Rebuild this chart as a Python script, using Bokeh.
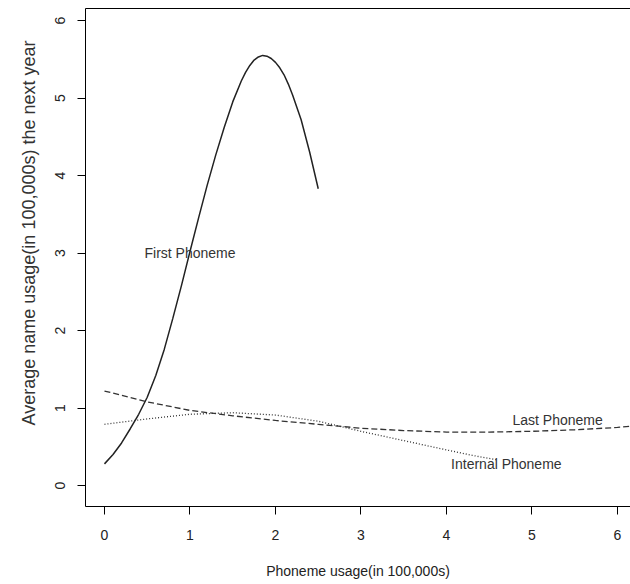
from bokeh.plotting import figure
from bokeh.models import LinearAxis, FixedTicker, Range1d, Title
from bokeh.core.properties import value
from bokeh.embed import file_html
from bokeh.resources import INLINE

# ---- data ----
first_x = [0.0, 0.1, 0.2, 0.3, 0.4, 0.5, 0.6, 0.7, 0.8, 0.9, 1.0, 1.1, 1.2,
           1.3, 1.4, 1.5, 1.6, 1.65, 1.7, 1.75, 1.8, 1.85, 1.9, 1.95, 2.0,
           2.05, 2.1, 2.15, 2.2, 2.3, 2.4, 2.5]
first_y = [0.28, 0.40, 0.55, 0.73, 0.92, 1.14, 1.42, 1.76, 2.16, 2.58, 3.02,
           3.45, 3.87, 4.26, 4.62, 4.95, 5.22, 5.33, 5.42, 5.49, 5.53, 5.55,
           5.54, 5.51, 5.46, 5.39, 5.30, 5.18, 5.04, 4.72, 4.30, 3.83]

last_x = [0.0, 0.5, 1.0, 1.5, 2.0, 2.5, 3.0, 3.5, 4.0, 4.5, 5.0, 5.5, 6.0, 6.3]
last_y = [1.22, 1.08, 0.97, 0.90, 0.84, 0.79, 0.74, 0.71, 0.69, 0.69, 0.70,
          0.72, 0.75, 0.78]

internal_x = [0.0, 0.5, 1.0, 1.5, 2.0, 2.5, 3.0, 3.5, 4.0, 4.3, 4.6]
internal_y = [0.79, 0.86, 0.92, 0.94, 0.91, 0.83, 0.70, 0.58, 0.46, 0.39, 0.33]

label_text = ["First Phoneme", "Last Phoneme", "Internal Phoneme"]
label_x = [1.0, 5.3, 4.7]
label_y = [3.0, 0.85, 0.28]

x_ticks = [0, 1, 2, 3, 4, 5, 6]
y_ticks = [0, 1, 2, 3, 4, 5, 6]

x_title = "Phoneme usage(in 100,000s)"
y_title = "Average name usage(in 100,000s) the next year"

FONT = "Liberation Sans"
INK = "#222222"

p = figure(width=630, height=584, output_backend="svg", toolbar_location=None,
           x_range=Range1d(-0.222, 6.152), y_range=Range1d(-0.27, 6.155),
           x_axis_location=None, y_axis_location=None,
           min_border_left=85, min_border_right=0, min_border_top=8,
           min_border_bottom=78)
p.outline_line_color = None
p.grid.visible = False
p.background_fill_color = "white"
p.border_fill_color = "white"

def style_axis(ax, standoff=14, vertical=False):
    ax.axis_line_color = "black"
    ax.axis_line_width = 1
    ax.major_tick_line_color = "black"
    ax.major_tick_out = 8
    ax.major_tick_in = 0
    ax.minor_tick_line_color = None
    ax.major_label_text_font = FONT
    ax.major_label_text_font_size = "14px"
    ax.major_label_text_color = INK
    ax.major_label_standoff = standoff
    if vertical:
        ax.major_label_orientation = "vertical"

xa = LinearAxis(ticker=FixedTicker(ticks=x_ticks))
style_axis(xa, standoff=15)
xa.axis_label = x_title
xa.axis_label_text_font = FONT
xa.axis_label_text_font_size = "14px"
xa.axis_label_text_font_style = "normal"
xa.axis_label_text_color = INK
xa.axis_label_standoff = 20
p.add_layout(xa, "below")

ya = LinearAxis(ticker=FixedTicker(ticks=y_ticks))
style_axis(ya, standoff=12, vertical=True)
p.add_layout(ya, "left")

top = LinearAxis(ticker=FixedTicker(ticks=[]))
top.axis_line_color = "black"
top.major_tick_out = 0
top.major_tick_in = 0
top.minor_tick_line_color = None
top.major_label_text_font_size = "0px"
top.major_label_standoff = 0
p.add_layout(top, "above")

# y-axis title: its end sits a little below the frame top, as in the reference
p.add_layout(Title(text=y_title, align="right", offset=32, standoff=28,
                   text_font=FONT, text_font_size="18px",
                   text_font_style="normal", text_color="#333333"), "left")

p.line(first_x, first_y, line_color=INK, line_width=1.5)
p.line(last_x, last_y, line_color="#333333", line_width=1.3, line_dash="6 3")
p.line(internal_x, internal_y, line_color="#333333", line_width=1.3,
       line_dash="1 2")

p.text(x=label_x, y=label_y, text=label_text, text_font=value(FONT),
       text_font_size="14px", text_color="#333333", text_align="center",
       text_baseline="middle")

open("out.html", "w").write(file_html(p, INLINE))
